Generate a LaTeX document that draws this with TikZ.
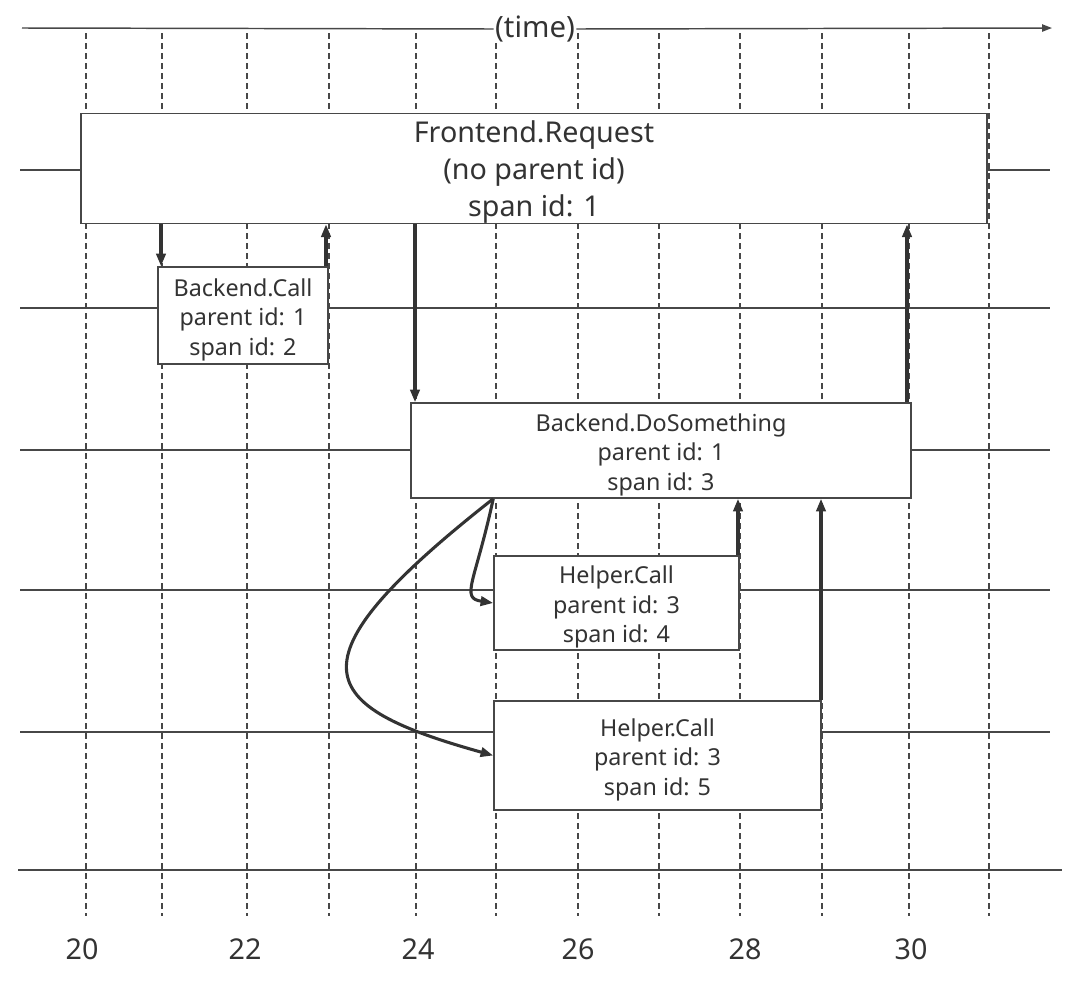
\documentclass[tikz,border=0pt]{standalone}
\usepackage{fontspec}
\setmainfont{Noto Sans}
\usetikzlibrary{arrows.meta,calc}
\definecolor{ink}{HTML}{333333}
\definecolor{linec}{HTML}{474747}
\newcommand{\topstrut}[1]{\rule{0pt}{#1}}
\begin{document}
\begin{tikzpicture}[x=0.75pt,y=-0.75pt,
  gridline/.style={draw=linec, line width=0.9pt, dash pattern=on 4.5pt off 3pt},
  lane/.style={draw=linec, line width=1.1pt},
  spanbox/.style={draw=linec, line width=1.1pt, fill=white, inner sep=0pt, align=center, text=ink, font=\fontsize{17.5}{22}\selectfont},
  arr/.style={draw=ink, line width=2.3pt, -{Triangle[length=9.5pt,width=7pt]}},
  ticklabel/.style={text=ink, font=\fontsize{21.5}{25}\selectfont, inner sep=0pt}]
\useasboundingbox (0,0) rectangle (1080,982);

% time grid
\foreach \x in {86,162,247,329,416,496,578,659,740,822,909,989}
  \draw[gridline] (\x,33) -- (\x,916);

% swim lanes
\foreach \y in {170,308,450,590,732}
  \draw[lane] (20,\y) -- (1050,\y);
\draw[lane] (18,870) -- (1062,870);

% time axis
\coordinate (ax0) at (22,28);
\coordinate (ax1) at (1052,28);
\node[fill=white, inner sep=1pt, text=ink, font=\fontsize{22}{26}\selectfont] (time) at (535,29) {(time)};
\draw[lane] (ax0) -- (time.west);
\draw[lane, -{Triangle[length=7.5pt,width=5.5pt]}] (time.east) -- (ax1);

% spans
\node[spanbox, minimum width=679.5pt, minimum height=80.25pt, font=\fontsize{21.5}{27.75}\selectfont] (fe) at (534,168.5) {\topstrut{22pt}Frontend.Request\\(no parent id)\\span id: 1};
\node[spanbox, minimum width=127.5pt, minimum height=72.75pt] (bc) at (243,315.5) {\topstrut{19.5pt}Backend.Call\\parent id: 1\\span id: 2};
\node[spanbox, minimum width=375pt, minimum height=71.25pt] (ds) at (661,450.5) {\topstrut{19.5pt}Backend.DoSomething\\parent id: 1\\span id: 3};
\node[spanbox, minimum width=183.75pt, minimum height=70.5pt] (h4) at (616.5,603) {\topstrut{19.5pt}Helper.Call\\parent id: 3\\span id: 4};
\node[spanbox, minimum width=245.25pt, minimum height=81.75pt] (h5) at (657.5,755.5) {\topstrut{19.5pt}Helper.Call\\parent id: 3\\span id: 5};

% arrow columns
\coordinate (c1) at (161,0);
\coordinate (c2) at (326,0);
\coordinate (c3) at (415,0);
\coordinate (c4) at (907,0);
\coordinate (c5) at (738,0);
\coordinate (c6) at (821,0);

\draw[arr] (fe.south -| c1) -- (bc.north -| c1);
\draw[arr] (bc.north -| c2) -- (fe.south -| c2);
\draw[arr] (fe.south -| c3) -- (ds.north -| c3);
\draw[arr] (ds.north -| c4) -- (fe.south -| c4);
\draw[arr] (h4.north -| c5) -- (ds.south -| c5);
\draw[arr] (h5.north -| c6) -- (ds.south -| c6);

\coordinate (fork) at (ds.south -| h4.west);
\draw[arr] (fork) .. controls (475,583) and (460,598) .. (h4.west);
\draw[arr] (fork) .. controls (283,664) and (316,706) .. (h5.west);

% tick labels
\node[ticklabel] (l20) at (82,949) {20};
\node[ticklabel] (l22) at (245,949) {22};
\node[ticklabel] (l24) at (418,949) {24};
\node[ticklabel] (l26) at (578,949) {26};
\node[ticklabel] (l28) at (745,949) {28};
\node[ticklabel] (l30) at (911,949) {30};
\end{tikzpicture}
\end{document}
